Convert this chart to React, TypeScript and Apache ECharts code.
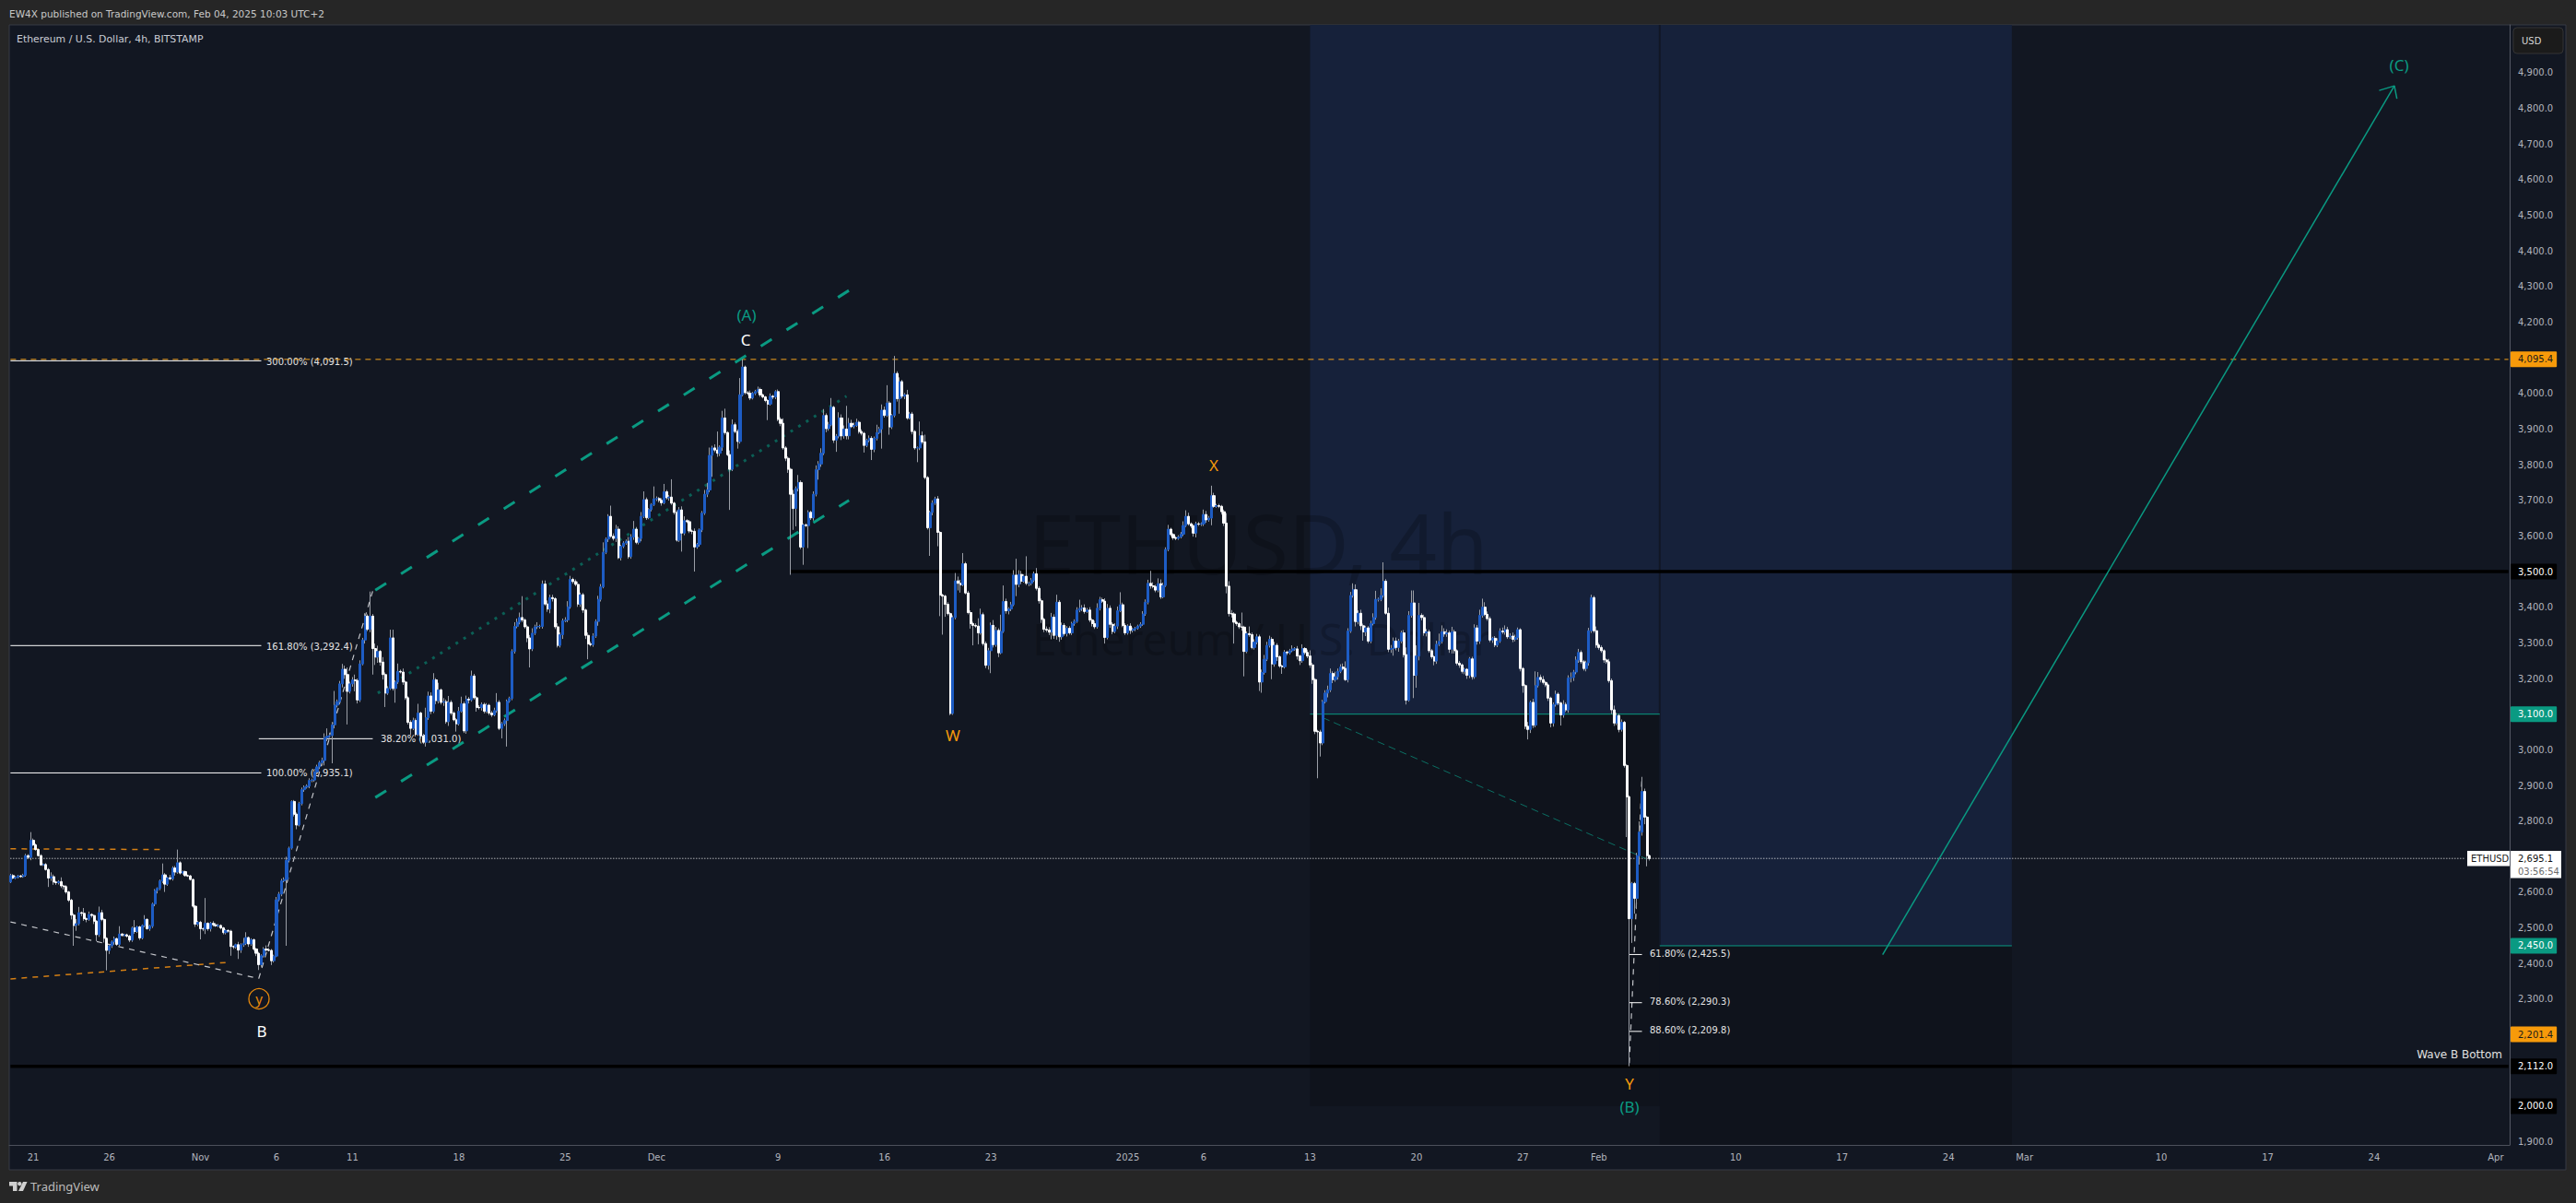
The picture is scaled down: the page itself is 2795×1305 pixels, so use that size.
import React, { useEffect, useRef } from "react";
import * as echarts from "echarts";

const font = "DejaVu Sans";
const labelFont = "Noto Sans";

const closes = [
  2647,2640,2642,2646,2644,2648,2703,2698,2746,2733,2720,2703,2677,2678,2664,2640,2644,2629,2627,2630,
  2618,2616,2601,2578,2536,2507,2512,2543,2541,2526,2524,2538,2535,2519,2481,2543,2524,2471,2437,2450,
  2461,2470,2454,2483,2479,2481,2477,2466,2500,2490,2503,2472,2507,2524,2498,2505,2567,2605,2611,2632,
  2649,2623,2641,2638,2668,2657,2683,2654,2658,2647,2646,2636,2561,2511,2516,2498,2497,2513,2498,2513,
  2509,2506,2507,2500,2487,2493,2491,2448,2447,2453,2438,2453,2457,2473,2455,2467,2441,2429,2397,2422,
  2441,2438,2437,2408,2421,2579,2595,2632,2636,2690,2724,2855,2819,2789,2849,2888,2895,2898,2914,2915,
  2938,2952,2964,2970,3034,3038,3040,3070,3125,3135,3185,3226,3211,3164,3185,3196,3194,3140,3241,3308,
  3375,3338,3375,3284,3260,3276,3246,3211,3159,3172,3314,3172,3190,3220,3218,3190,3146,3077,3060,3082,
  3043,3103,3039,3021,3090,3151,3108,3196,3138,3168,3133,3135,3079,3133,3103,3084,3073,3108,3129,3053,
  3142,3140,3207,3146,3119,3118,3127,3108,3125,3103,3098,3110,3133,3060,3073,3082,3136,3144,3276,3346,
  3358,3371,3364,3345,3314,3283,3327,3345,3346,3346,3465,3409,3395,3427,3424,3345,3293,3323,3362,3364,
  3401,3478,3472,3464,3409,3435,3392,3321,3297,3295,3319,3360,3422,3457,3554,3591,3655,3599,3593,3619,
  3539,3571,3580,3585,3542,3597,3619,3582,3593,3655,3702,3651,3674,3688,3704,3705,3700,3693,3724,3707,
  3709,3692,3666,3588,3673,3608,3643,3640,3614,3613,3569,3576,3617,3664,3717,3729,3826,3847,3841,3832,
  3849,3931,3890,3828,3787,3912,3893,3865,3996,4074,4002,4000,3987,4000,4005,4011,3996,3990,3980,3970,
  3992,3990,4005,3927,3916,3847,3818,3787,3717,3677,3733,3750,3569,3631,3629,3666,3651,3717,3786,3802,
  3832,3938,3901,3912,3961,3869,3880,3931,3881,3900,3881,3916,3907,3910,3919,3893,3888,3854,3868,3874,
  3843,3874,3890,3900,3953,3938,3973,3906,3938,4056,3985,4033,3992,3996,3931,3942,3893,3847,3847,3881,
  3864,3764,3623,3666,3692,3704,3610,3434,3431,3408,3382,3102,3371,3474,3467,3463,3522,3440,3385,3354,
  3349,3347,3328,3379,3298,3237,3278,3349,3295,3335,3272,3332,3416,3390,3395,3407,3490,3464,3492,3473,
  3487,3467,3467,3476,3494,3453,3418,3366,3338,3336,3330,3372,3321,3414,3317,3349,3326,3341,3328,3354,
  3360,3392,3397,3398,3388,3392,3364,3354,3345,3397,3421,3417,3315,3397,3352,3332,3347,3390,3407,3349,
  3328,3347,3335,3338,3341,3347,3352,3381,3414,3467,3460,3458,3448,3466,3429,3461,3562,3619,3604,3595,
  3593,3597,3605,3629,3655,3634,3628,3608,3634,3633,3634,3660,3645,3650,3713,3683,3685,3683,3668,3636,
  3459,3382,3381,3358,3354,3345,3344,3276,3326,3323,3287,3302,3317,3190,3217,3254,3293,3310,3241,3293,
  3261,3235,3233,3274,3272,3278,3283,3283,3263,3250,3284,3273,3263,3238,3197,3052,3050,3019,3135,3159,
  3168,3214,3197,3205,3220,3232,3228,3197,3333,3433,3449,3360,3383,3348,3331,3342,3305,3354,3371,3422,
  3422,3433,3473,3383,3282,3284,3305,3287,3305,3328,3267,3139,3377,3412,3209,3263,3377,3371,3328,3331,
  3278,3261,3249,3296,3304,3331,3325,3328,3282,3331,3278,3243,3238,3220,3226,3209,3255,3205,3342,3305,
  3377,3400,3380,3368,3308,3313,3294,3305,3333,3331,3337,3317,3319,3310,3315,3337,3228,3180,3066,3057,
  3133,3069,3180,3203,3197,3189,3182,3145,3075,3127,3156,3131,3098,3127,3112,3201,3203,3218,3252,3273,
  3247,3228,3244,3334,3427,3334,3294,3287,3278,3252,3247,3194,3112,3075,3096,3057,3077,2956,2868,2526,
  2625,2583,2703,2769,2883,2811,2703,2695,
];

const wickUp = [
  5,4,4,3,3,4,5,4,23,5,4,3,4,3,4,4,12,6,3,4,
  12,3,4,3,4,5,13,16,3,15,3,8,3,3,3,17,8,3,3,4,
  4,6,3,22,3,3,3,4,4,22,3,3,3,12,3,4,4,4,3,4,
  32,5,3,8,5,6,37,4,3,3,3,3,3,3,4,4,3,71,3,4,
  6,5,4,3,3,3,3,4,3,3,8,4,15,15,3,4,3,3,4,4,
  5,10,6,4,4,8,6,6,6,10,4,3,4,5,5,6,5,5,6,4,
  6,6,5,8,12,22,8,8,40,6,8,15,10,20,6,8,15,6,10,6,
  8,5,69,6,14,16,4,14,6,6,23,23,5,22,5,10,4,4,6,8,
  6,26,4,6,28,12,10,19,5,20,4,10,6,18,6,5,5,12,20,6,
  10,6,15,6,5,6,6,5,6,4,6,8,26,6,5,6,5,5,6,12,
  10,14,60,5,6,8,14,6,12,5,10,10,10,8,8,4,10,6,6,8,
  16,10,5,6,8,6,5,4,8,6,8,6,10,8,28,5,6,30,8,12,
  8,4,5,5,12,8,23,6,4,12,23,6,4,4,35,6,4,6,22,5,
  6,50,4,6,8,10,12,4,5,4,8,4,4,6,12,20,22,6,10,52,
  5,20,26,4,12,15,6,6,47,22,4,5,8,4,5,8,5,3,3,4,
  8,4,4,6,6,14,5,5,4,12,6,21,6,4,4,6,5,8,12,8,
  14,18,6,8,26,4,6,16,10,10,65,15,10,8,10,4,6,4,5,8,
  6,5,22,6,16,10,50,5,4,49,6,12,5,5,14,6,6,4,4,40,
  12,20,4,5,8,6,8,4,4,4,6,4,6,22,12,10,30,5,6,6,
  5,6,22,17,6,6,8,8,15,10,6,47,45,8,5,8,14,46,12,10,
  5,56,5,6,6,16,6,6,4,8,8,12,8,21,6,8,6,6,6,5,
  6,8,24,8,10,6,8,5,8,14,8,6,8,12,8,6,8,12,35,6,
  6,5,8,5,4,4,6,8,8,10,35,10,5,15,12,8,6,12,4,4,
  4,5,6,12,17,10,4,5,6,5,4,14,10,6,28,8,5,5,4,6,
  28,14,10,5,4,4,40,4,6,20,6,8,8,6,8,12,10,10,6,10,
  6,4,4,6,4,5,10,5,8,4,12,4,8,16,6,4,4,6,5,8,
  12,14,6,14,8,8,10,20,8,10,18,15,8,10,6,6,5,8,12,24,
  5,20,53,6,16,10,10,10,6,6,8,20,12,35,35,30,35,6,8,8,
  6,5,4,10,22,18,10,10,6,14,6,4,6,4,4,3,5,6,10,8,
  16,24,14,8,6,4,6,8,8,10,12,8,8,10,8,6,4,4,4,12,
  5,10,40,15,8,10,4,4,4,6,10,5,4,12,6,8,14,6,10,10,
  6,5,6,8,8,5,12,6,6,4,4,8,6,12,8,5,8,4,4,4,
  4,4,8,30,41,8,4,3,
];

const wickDown = [
  3,3,3,3,3,3,4,5,8,3,3,3,3,3,3,25,8,8,6,5,
  6,8,5,5,12,57,15,5,8,6,8,4,6,8,18,6,5,12,56,10,
  6,8,4,5,3,3,4,6,5,6,4,6,4,5,3,6,5,6,8,5,
  6,22,5,4,5,10,5,4,4,3,3,3,4,8,6,30,6,14,6,8,
  5,3,4,4,5,5,4,26,6,5,25,8,6,5,8,5,5,8,15,6,
  5,4,3,12,5,3,4,6,4,186,6,4,6,12,4,5,6,4,6,5,
  5,6,6,8,14,10,4,78,10,6,8,10,12,93,6,8,30,10,6,4,
  10,5,8,73,22,16,10,14,39,5,4,6,40,5,4,8,6,6,18,5,
  6,4,8,5,12,6,8,5,10,8,6,10,6,12,6,4,22,5,4,6,
  8,10,5,5,12,5,8,6,5,6,6,4,6,5,28,6,73,4,5,6,
  5,6,6,5,12,52,6,5,6,6,6,5,8,12,8,6,6,6,12,4,
  6,5,6,5,8,8,8,10,43,5,6,5,12,6,4,5,8,4,6,10,
  4,8,5,5,6,6,8,5,6,8,5,6,4,5,4,6,6,8,4,5,
  8,5,6,4,5,52,6,4,6,8,69,5,6,6,5,8,6,60,6,10,
  8,10,6,4,114,5,5,20,6,4,5,5,6,4,5,4,6,4,5,45,
  4,6,6,5,8,5,8,10,226,60,50,8,6,50,4,63,6,8,6,28,
  8,5,10,6,4,8,33,6,12,8,10,10,4,5,4,6,6,20,5,5,
  30,8,6,4,55,6,4,22,6,5,8,42,6,8,5,4,8,5,40,6,
  6,5,5,79,8,5,39,59,108,35,5,5,4,5,20,22,4,4,5,14,
  56,5,32,5,6,8,12,63,8,6,12,4,4,8,10,6,4,33,8,8,
  4,5,8,6,5,6,8,10,8,6,8,20,10,12,14,8,6,8,5,6,
  6,4,6,8,6,4,6,8,6,5,6,5,17,5,10,8,5,8,4,5,
  6,5,10,6,5,4,5,4,5,6,8,5,6,6,6,4,4,5,5,6,
  5,4,4,5,4,5,6,10,12,5,5,6,8,5,20,4,4,5,8,8,
  20,8,10,60,6,6,10,70,5,6,5,6,6,25,30,6,5,6,43,8,
  12,5,20,5,6,5,4,5,10,12,6,6,6,8,12,8,130,38,6,5,
  12,6,10,6,8,5,5,4,8,5,6,14,8,12,25,12,6,6,5,6,
  6,5,6,4,8,10,20,8,12,6,8,12,4,6,64,35,12,8,8,10,
  6,6,12,8,5,6,8,8,10,12,8,6,8,6,8,10,8,8,6,10,
  8,6,5,6,6,8,6,6,5,6,8,6,6,8,6,6,8,20,8,28,
  10,8,6,5,8,6,6,8,12,10,6,6,30,8,6,8,12,10,6,8,
  6,6,8,8,6,6,8,6,6,8,6,6,12,8,6,8,6,6,113,414,
  68,43,30,25,10,20,30,6,
];

const firstOpen = 2629;
const barCount = 987;
const firstBarTime = Date.UTC(2024, 9, 19, 12);
const categories = Array.from({ length: barCount }, (_, i) =>
  new Date(firstBarTime + i * 4 * 3600 * 1000).toISOString().slice(0, 16)
);

const timeLabels = ["21","26","Nov","6","11","18","25","Dec","9","16","23","2025","6","13","20","27","Feb","10","17","24","Mar","10","17","24","Apr"];
const timeLabelBars = [9,39,75,105,135,177,219,255,303,345,387,441,471,513,555,597,627,681,723,765,795,849,891,933,981];

const priceTicks = [4900,4800,4700,4600,4500,4400,4300,4200,4000,3900,3800,3700,3600,3400,3300,3200,3000,2900,2800,2600,2500,2400,2300,1900];

const channelUpper = [[144,3448],[331,4289]];
const channelLower = [[144,2866],[331,3700]];
const channelMiddle = [[145,3159],[330,3992]];
const resistanceLine = [[0,4095.4],[986,4095.4]];
const currentPriceLine = [[0,2695.1],[969,2695.1]];
const level3500 = [[308,3500],[986,3500]];
const level2112 = [[0,2112],[986,2112]];
const stopEdge = [[513,3100],[651,3100]];
const targetEdge = [[651,2450],[790,2450]];
const zoneSeam = [[651,5034],[651,2450]];
const tradeDiagonal = [[518,3090],[646,2693]];
const fib300 = [[0,4091.5],[99,4091.5]];
const fib161 = [[0,3292.4],[99,3292.4]];
const fib100 = [[0,2935.1],[99,2935.1]];
const fib38 = [[98,3031],[143,3031]];
const fib61 = [[639,2425.5],[644,2425.5]];
const fib78 = [[639,2290.3],[644,2290.3]];
const fib88 = [[639,2209.8],[644,2209.8]];
const swingUp = [[98,2358],[143,3446]];
const swingDown = [[0,2517],[98,2358]];
const swingLast = [[639,2121],[644,2923]];
const wedgeUpper = [[0,2722],[61,2720]];
const wedgeLower = [[0,2357],[85,2403]];
const projection = [[739,2425],[941,4863]];
const projectionHead = [[935,4850],[941,4863],[942,4827]];

const tagValues = [4095.4, 3500, 3100, 2450, 2201.4, 2112, 2000];
const tagTexts = ["4,095.4","3,500.0","3,100.0","2,450.0","2,201.4","2,112.0","2,000.0"];
const tagFills = ["#f79a0a","#000000","#0a9a82","#0a9a82","#f79a0a","#000000","#000000"];
const tagInks = ["#1a1a1a","#ffffff","#ffffff","#ffffff","#1a1a1a","#ffffff","#ffffff"];

const TEAL = "#0a9a82";
const ORANGE = "#f59a0c";
const WHITE = "#ffffff";
const GRAY = "#c4c6cb";
const WATERMARK = "rgba(0,0,0,0.2)";

function lineOf(name: string, data: number[][], color: string, width: number, type: any = "solid", z = 3) {
  return {
    name, type: "line", data, z, silent: true, symbol: "none", showSymbol: false,
    animation: false, clip: true,
    lineStyle: { color, width, type, cap: "butt" },
  };
}

function txt(text: string, x: number, y: number, size: number, fill: string, extra: any = {}) {
  const { z, ...style } = extra;
  return {
    type: "text", x, y, z: z ?? 3, silent: true,
    style: { text, fontSize: size, fontFamily: font, fill, verticalAlign: "middle", align: "left", ...style },
  };
}

export default function App() {
  const ref = useRef<HTMLDivElement>(null);
  useEffect(() => {
    document.body.style.margin = "0";
    const chart = echarts.init(ref.current!, undefined, { renderer: "svg" });
    const opens = closes.map((_, i) => (i === 0 ? firstOpen : closes[i - 1]));
    const wicks = closes.map((c, i) => {
      const o = opens[i];
      return [o, c, Math.min(o, c) - (wickDown[i] ?? 0), Math.max(o, c) + (wickUp[i] ?? 0)];
    });
    const bodies = closes.map((c, i) => {
      const o = opens[i];
      return [o, c, Math.min(o, c), Math.max(o, c)];
    });
    const labelByBar = new Map(timeLabelBars.map((b, i) => [b, timeLabels[i]]));

    const yMin = 1891.2;
    const yMax = 5034;
    const option: any = {
      animation: false,
      backgroundColor: "#262626",
      grid: { left: 10, right: 72, top: 27, height: 1215, containLabel: false },
      xAxis: {
        type: "category", data: categories, boundaryGap: true,
        axisLine: { show: true, lineStyle: { color: "#4c505b", width: 1 } },
        axisTick: { show: false }, splitLine: { show: false },
        axisLabel: {
          color: "#b2b5be", fontFamily: font, fontSize: 10, margin: 8, hideOverlap: false,
          interval: (i: number) => labelByBar.has(i),
          formatter: (_: string, i: number) => labelByBar.get(i) ?? "",
        },
      },
      yAxis: {
        type: "value", position: "right", min: yMin, max: yMax, scale: true,
        axisLine: { show: true, lineStyle: { color: "#555965", width: 1 } },
        axisTick: { show: false }, splitLine: { show: false },
        axisLabel: {
          color: "#b2b5be", fontFamily: font, fontSize: 10, margin: 9,
          customValues: priceTicks,
          formatter: (v: number) => v.toLocaleString("en-US", { minimumFractionDigits: 1, maximumFractionDigits: 1 }),
        },
      },
      graphic: [
        { type: "rect", z: -2, silent: true, shape: { x: 10, y: 27, width: 2774, height: 1242 }, style: { fill: "#121722", stroke: "#363a45", lineWidth: 1 } },
        txt("EW4X published on TradingView.com, Feb 04, 2025 10:03 UTC+2", 10, 15, 10.5, "#c9c9c9"),
        txt("Ethereum / U.S. Dollar, 4h, BITSTAMP", 18, 42, 10.9, "#c9ccd4"),
        txt("ETHUSD, 4h", 1116, 588, 90, WATERMARK, { fontFamily: labelFont, z: 2 }),
        txt("Ethereum / U.S. Dollar", 1120, 692, 48, WATERMARK, { fontFamily: labelFont, z: 2 }),
        // Fib labels
        txt("300.00% (4,091.5)", 289, 392, 10, "#e4e4e4"),
        txt("161.80% (3,292.4)", 289, 701, 10, "#e4e4e4"),
        txt("100.00% (2,935.1)", 289, 838, 10, "#e4e4e4"),
        txt("38.20% (3,031.0)", 413, 801, 10, "#e4e4e4"),
        txt("61.80% (2,425.5)", 1790, 1034, 10, "#e4e4e4"),
        txt("78.60% (2,290.3)", 1790, 1086, 10, "#e4e4e4"),
        txt("88.60% (2,209.8)", 1790, 1117, 10, "#e4e4e4"),
        // Wave labels
        txt("(A)", 810, 341, 17, TEAL, { fontFamily: labelFont, align: "center" }),
        txt("C", 809, 368, 17, "#ffffff", { fontFamily: labelFont, align: "center" }),
        txt("W", 1034, 797, 17, ORANGE, { fontFamily: labelFont, align: "center" }),
        txt("X", 1317, 504, 17, ORANGE, { fontFamily: labelFont, align: "center" }),
        txt("Y", 1768, 1175, 17, ORANGE, { fontFamily: labelFont, align: "center" }),
        txt("(B)", 1768, 1200, 17, TEAL, { fontFamily: labelFont, align: "center" }),
        txt("B", 284, 1118, 17, "#ffffff", { fontFamily: labelFont, align: "center" }),
        txt("(C)", 2603, 70, 17, TEAL, { fontFamily: labelFont, align: "center" }),
        { type: "circle", z: 3, silent: true, shape: { cx: 281, cy: 1083.5, r: 11 }, style: { fill: "none", stroke: "#e8890c", lineWidth: 1.3 } },
        txt("y", 281, 1083, 15, "#e8890c", { fontFamily: labelFont, align: "center" }),
        txt("Wave B Bottom", 2715, 1144, 12, "#e0e0e0", { align: "right" }),
        // Price scale widgets
        { type: "rect", z: 7, silent: true, shape: { x: 2727, y: 30, width: 54, height: 28, r: 4 }, style: { fill: "#1b1b1b", stroke: "#343434", lineWidth: 1 } },
        txt("USD", 2736, 44, 10, "#d6d6d6", { z: 8 }),
        { type: "rect", z: 7, silent: true, shape: { x: 2677, y: 923, width: 46, height: 16.5 }, style: { fill: "#ffffff" } },
        txt("ETHUSD", 2681, 931.5, 10, "#1c1c1c", { z: 8 }),
        { type: "rect", z: 7, silent: true, shape: { x: 2724, y: 923, width: 55, height: 29.5 }, style: { fill: "#ffffff" } },
        txt("2,695.1", 2732, 931, 10, "#111111", { z: 8 }),
        txt("03:56:54", 2732, 945, 10, "#6b6b6b", { z: 8 }),
        // Footer
        { type: "polygon", z: 3, silent: true, shape: { points: [[10,1282],[18.5,1282],[18.5,1292],[14,1292],[14,1286.5],[10,1286.5]] }, style: { fill: "#d0d0d0" } },
        { type: "circle", z: 3, silent: true, shape: { cx: 21.3, cy: 1284.2, r: 2.2 }, style: { fill: "#d0d0d0" } },
        { type: "polygon", z: 3, silent: true, shape: { points: [[25,1282],[29.5,1282],[25,1292],[20,1292]] }, style: { fill: "#d0d0d0" } },
        txt("TradingView", 33, 1287, 13, "#bcbcbc", { fontFamily: labelFont }),
      ],
      series: [
        {
          name: "zones", type: "line", data: [], z: 1, silent: true,
          markArea: {
            silent: true, z: 1,
            itemStyle: { opacity: 1 },
            data: [
              [{ coord: [513, yMax], itemStyle: { color: "#16213a" } }, { coord: [651, 3100] }],
              [{ coord: [513, 3100], itemStyle: { color: "#0f131c" } }, { coord: [651, 2000] }],
              [{ coord: [651, yMax], itemStyle: { color: "#16213a" } }, { coord: [790, 2450] }],
              [{ coord: [651, 2450], itemStyle: { color: "#0f131c" } }, { coord: [790, yMin] }],
            ],
          },
        },
        lineOf("zone seam", zoneSeam, "#111725", 2, "solid", 2),
        lineOf("3500", level3500, "#000000", 3.5),
        lineOf("2112", level2112, "#000000", 3.5),
        lineOf("4095.4", resistanceLine, "#f6a31d", 1, [6, 5]),
        lineOf("wedge upper", wedgeUpper, "#d47f14", 1.5, [6, 6]),
        lineOf("wedge lower", wedgeLower, "#d47f14", 1.5, [6, 6]),
        lineOf("swing down", swingDown, GRAY, 1.2, [6, 6]),
        lineOf("swing up", swingUp, GRAY, 1.2, [6, 6]),
        lineOf("swing last", swingLast, GRAY, 1.2, [6, 6]),
        lineOf("channel upper", channelUpper, TEAL, 3, [14, 19]),
        lineOf("channel lower", channelLower, TEAL, 3, [14, 19]),
        lineOf("channel middle", channelMiddle, "#0b5f55", 3, [3, 7]),
        lineOf("current", currentPriceLine, WHITE, 1, [1, 2]),
        lineOf("stop edge", stopEdge, TEAL, 1),
        lineOf("target edge", targetEdge, TEAL, 1),
        lineOf("trade diagonal", tradeDiagonal, "#0b6f63", 1, [8, 5]),
        lineOf("fib 300", fib300, WHITE, 1),
        lineOf("fib 161", fib161, WHITE, 1),
        lineOf("fib 100", fib100, WHITE, 1),
        lineOf("fib 38", fib38, WHITE, 1),
        lineOf("fib 61", fib61, WHITE, 1),
        lineOf("fib 78", fib78, WHITE, 1),
        lineOf("fib 88", fib88, WHITE, 1),
        lineOf("projection", projection, TEAL, 1.5),
        lineOf("projection head", projectionHead, TEAL, 1.5),
        {
          name: "wicks", type: "candlestick", z: 5, silent: true, barWidth: 1, large: false, data: wicks,
          itemStyle: { color: "#9a9ea6", color0: "#9a9ea6", borderColor: "#9a9ea6", borderColor0: "#9a9ea6", borderWidth: 1 },
        },
        {
          name: "ETHUSD", type: "candlestick", z: 6, silent: true, barWidth: 2.6, large: false, data: bodies,
          itemStyle: { color: "#1d5cc4", color0: "#ffffff", borderColor: "#1d5cc4", borderColor0: "#ffffff", borderWidth: 1 },
        },
        {
          name: "tags", type: "line", data: [], z: 7, silent: true,
          markLine: {
            silent: true, symbol: "none", animation: false, z: 7,
            lineStyle: { color: "rgba(0,0,0,0)", width: 0 },
            data: tagValues.map((v, i) => ({
              yAxis: v,
              lineStyle: { color: "rgba(0,0,0,0)", width: 0 },
              label: {
                show: true, position: "end", distance: 1, formatter: tagTexts[i],
                color: tagInks[i], backgroundColor: tagFills[i], borderRadius: 1,
                padding: [3, 4, 3, 8], fontFamily: font, fontSize: 10, lineHeight: 11,
              },
            })),
          },
        },
      ],
    };
    chart.setOption(option);
    return () => chart.dispose();
  }, []);
  return <div ref={ref} style={{ position: "absolute", left: 0, top: 0, width: 2795, height: 1305 }} />;
}
